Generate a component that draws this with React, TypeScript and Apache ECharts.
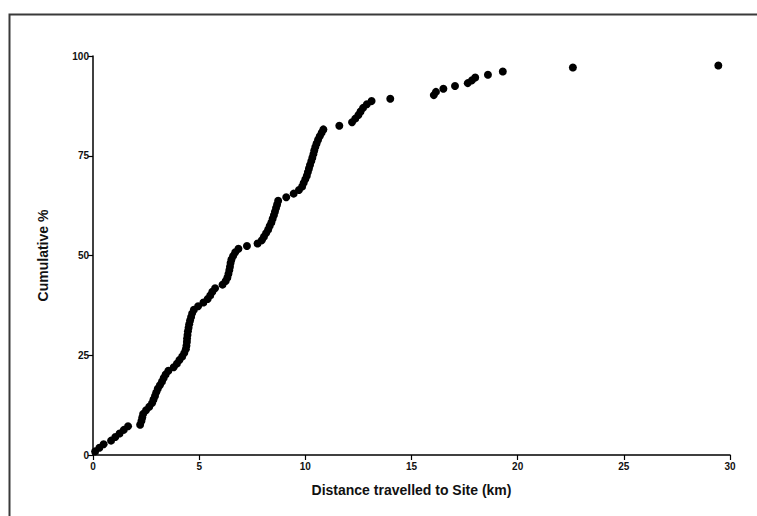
import React, { useEffect, useRef } from "react";
import * as echarts from "echarts";

const distanceKm: number[] = [
  0.1, 0.3, 0.5, 0.85, 1.05, 1.25, 1.45, 1.65,
  2.22, 2.28, 2.32, 2.36, 2.5, 2.65, 2.78, 2.85, 2.92, 2.98, 3.05, 3.15, 3.25, 3.33, 3.42, 3.55,
  3.8, 3.95, 4.07, 4.2, 4.3, 4.37, 4.4, 4.42, 4.43, 4.45, 4.47, 4.5, 4.53, 4.57, 4.62, 4.67, 4.75,
  4.95, 5.2, 5.4, 5.52, 5.62, 5.75, 6.1, 6.25, 6.33, 6.38, 6.42, 6.45, 6.48, 6.52, 6.6, 6.7, 6.85, 7.25,
  7.75, 7.95, 8.05, 8.15, 8.25, 8.32, 8.4, 8.46, 8.52, 8.57, 8.62, 8.67, 8.72,
  9.1, 9.45, 9.7, 9.85, 9.92, 10.0, 10.07, 10.12, 10.17, 10.22, 10.28, 10.33, 10.38, 10.42, 10.47, 10.53, 10.6, 10.68, 10.77, 10.85,
  11.6,
  12.2, 12.35, 12.5, 12.6, 12.72, 12.9, 13.12,
  14.0,
  16.05, 16.15, 16.5, 17.05, 17.65, 17.85, 18.0, 18.6, 19.3,
  22.6, 29.45,
];

const cumulativePct: number[] = [
  0.9, 1.8, 2.7, 3.6, 4.5, 5.4, 6.3, 7.2,
  7.6, 8.5, 9.4, 10.3, 11.2, 12.1, 13.0, 13.9, 14.8, 15.7, 16.6, 17.5, 18.4, 19.3, 20.2, 21.1,
  22.0, 22.9, 23.8, 24.7, 25.6, 26.5, 27.4, 28.3, 29.2, 30.1, 31.0, 31.9, 32.8, 33.7, 34.6, 35.5, 36.4,
  37.3, 38.2, 39.1, 40.0, 40.9, 41.8, 42.7, 43.6, 44.5, 45.4, 46.3, 47.2, 48.1, 49.0, 49.9, 50.8, 51.7, 52.4,
  53.0, 53.8, 54.7, 55.6, 56.5, 57.4, 58.3, 59.2, 60.1, 61.0, 61.9, 62.8, 63.7,
  64.6, 65.5, 66.4, 67.3, 68.2, 69.1, 70.0, 70.9, 71.8, 72.7, 73.6, 74.5, 75.4, 76.3, 77.2, 78.1, 79.0, 79.9, 80.8, 81.6,
  82.5,
  83.4, 84.3, 85.2, 86.1, 87.0, 87.9, 88.7,
  89.3,
  90.2, 91.0, 91.8, 92.5, 93.2, 93.9, 94.6, 95.3, 96.1,
  97.1, 97.6,
];

const xTicks = { min: 0, max: 30, interval: 5 };
const yTicks = { min: 0, max: 100, interval: 25 };

const xTitle = "Distance travelled to Site (km)";
const yTitle = "Cumulative %";

export default function App() {
  const ref = useRef<HTMLDivElement>(null);
  useEffect(() => {
    if (!ref.current) return;
    const chart = echarts.init(ref.current, undefined, { renderer: "svg" });
    const points = distanceKm.map((x, i) => [x, cumulativePct[i]]);
    const font = "Liberation Sans, Arial, Helvetica, sans-serif";
    chart.setOption({
      animation: false,
      backgroundColor: "#ffffff",
      graphic: [
        {
          type: "rect",
          left: 7,
          top: 12,
          shape: { x: 0, y: 0, width: 800, height: 600 },
          style: { fill: "none", stroke: "#3a3a3a", lineWidth: 2 },
          silent: true,
        },
      ],
      grid: { left: 93, right: 27, top: 56, bottom: 61, containLabel: false },
      xAxis: {
        type: "value",
        min: xTicks.min,
        max: xTicks.max,
        interval: xTicks.interval,
        name: xTitle,
        nameLocation: "middle",
        nameGap: 28,
        nameTextStyle: { fontFamily: font, fontSize: 14, fontWeight: "bold", color: "#111" },
        axisLine: { show: true, onZero: false, lineStyle: { color: "#000", width: 1.5 } },
        axisTick: { show: true, length: 5, lineStyle: { color: "#000", width: 1.2 } },
        axisLabel: { fontFamily: font, fontSize: 10, fontWeight: "bold", color: "#111", margin: 6 },
        splitLine: { show: false },
      },
      yAxis: {
        type: "value",
        min: yTicks.min,
        max: yTicks.max,
        interval: yTicks.interval,
        name: yTitle,
        nameLocation: "middle",
        nameGap: 43,
        nameRotate: 90,
        nameTextStyle: { fontFamily: font, fontSize: 14, fontWeight: "bold", color: "#111" },
        axisLine: { show: true, onZero: false, lineStyle: { color: "#000", width: 1.5 } },
        axisTick: { show: true, length: 5, lineStyle: { color: "#000", width: 1.2 } },
        axisLabel: { fontFamily: font, fontSize: 10, fontWeight: "bold", color: "#111", margin: 4 },
        splitLine: { show: false },
      },
      series: [
        {
          type: "scatter",
          data: points,
          symbol: "circle",
          symbolSize: 8,
          itemStyle: { color: "#000", opacity: 1 },
        },
      ],
    });
    return () => chart.dispose();
  }, []);
  return (
    <div
      ref={ref}
      style={{ position: "absolute", left: 0, top: 0, width: 757, height: 516 }}
    />
  );
}
